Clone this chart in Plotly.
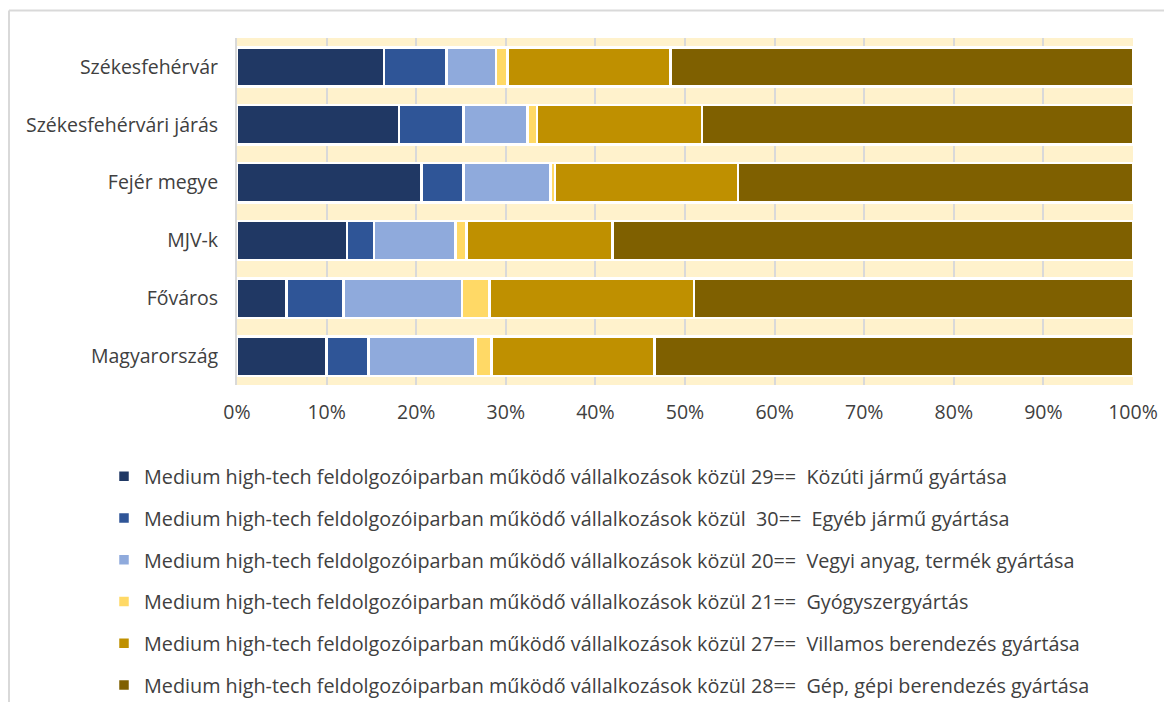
import plotly.graph_objects as go

categories = ["Székesfehérvár", "Székesfehérvári járás", "Fejér megye", "MJV-k", "Főváros", "Magyarország"]

series_names = [
    "Medium high-tech feldolgozóiparban működő vállalkozások közül 29==  Közúti jármű gyártása",
    "Medium high-tech feldolgozóiparban működő vállalkozások közül  30==  Egyéb jármű gyártása",
    "Medium high-tech feldolgozóiparban működő vállalkozások közül 20==  Vegyi anyag, termék gyártása",
    "Medium high-tech feldolgozóiparban működő vállalkozások közül 21==  Gyógyszergyártás",
    "Medium high-tech feldolgozóiparban működő vállalkozások közül 27==  Villamos berendezés gyártása",
    "Medium high-tech feldolgozóiparban működő vállalkozások közül 28==  Gép, gépi berendezés gyártása",
]

kozuti_jarmu = [16.4, 18.1, 20.6, 12.3, 5.5, 10.0]
egyeb_jarmu = [7.0, 7.2, 4.7, 3.0, 6.4, 4.7]
vegyi_anyag = [5.5, 7.1, 9.7, 9.1, 13.2, 11.9]
gyogyszer = [1.3, 1.1, 0.5, 1.2, 3.1, 1.8]
villamos = [18.2, 18.4, 20.4, 16.3, 22.8, 18.2]
gep = [51.6, 48.1, 44.1, 58.1, 49.0, 53.4]

series_values = [kozuti_jarmu, egyeb_jarmu, vegyi_anyag, gyogyszer, villamos, gep]
colors = ["#203864", "#2F5597", "#8FAADC", "#FFD966", "#BF9000", "#7F6000"]

tick_vals = [0, 10, 20, 30, 40, 50, 60, 70, 80, 90, 100]
tick_text = [f"{v}%" for v in tick_vals]

FONT = "Open Sans"
TXT = "#404040"

fig = go.Figure()
for i, (name, vals, col) in enumerate(zip(series_names, series_values, colors)):
    fig.add_trace(go.Bar(
        y=categories, x=vals, name=name, orientation="h",
        marker=dict(color=col, line=dict(color="#FFFFFF", width=2.5)),
        width=0.68, legendgroup=f"g{i}",
    ))

# page is offset by the 8px body margin
OFF = 8
W, H = 1172 - OFF, 702 - OFF
L, R, T, B = 237 - OFF, 39, 38 - OFF, 317
pw, ph = W - L - R, H - T - B

def px_x(page_px):
    return (page_px - OFF - L) / pw

def px_y(page_py):
    return (H - B - (page_py - OFF)) / ph

fig.update_layout(
    width=W, height=H,
    barmode="stack",
    margin=dict(l=L, r=R, t=T, b=B, pad=0, autoexpand=False),
    paper_bgcolor="#FFFFFF",
    plot_bgcolor="#FFF2CC",
    font=dict(family=FONT, size=19.5, color=TXT),
    xaxis=dict(
        range=[0, 100], tickvals=tick_vals, ticktext=tick_text,
        showgrid=True, gridcolor="#D9D9D9", gridwidth=2,
        zeroline=False, showline=False, ticks="", ticklabelstandoff=13,
        fixedrange=True,
    ),
    yaxis=dict(
        categoryorder="array", categoryarray=categories, autorange="reversed",
        showgrid=False, zeroline=False, showline=True, linecolor="#D9D9D9", linewidth=2,
        ticks="", ticklabelstandoff=13,
    ),
    legend=dict(
        x=px_x(104), y=px_y(457), xanchor="left", yanchor="top",
        traceorder="grouped", tracegroupgap=13,
        font=dict(family=FONT, size=19.8, color=TXT),
        bgcolor="rgba(0,0,0,0)",
    ),
    showlegend=True,
    shapes=[
        dict(type="line", xref="paper", yref="paper",
             x0=px_x(9), x1=px_x(1172), y0=px_y(10.5), y1=px_y(10.5),
             line=dict(color="#D9D9D9", width=2), layer="above"),
        dict(type="line", xref="paper", yref="paper",
             x0=px_x(9), x1=px_x(9), y0=px_y(10.5), y1=px_y(702),
             line=dict(color="#D9D9D9", width=2), layer="above"),
    ],
)

fig.write_html("out.html")
